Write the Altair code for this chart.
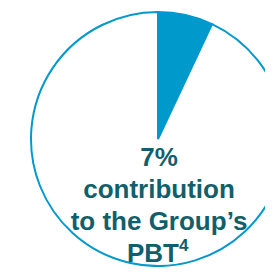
import altair as alt
import pandas as pd

# data
segments = ["Contribution", "Rest of Group"]
shares = [7, 93]
seg_colors = ["#0099CC", "#FFFFFF"]

text_lines = ["7%", "contribution", "to the Group\u2019s"]
last_line = ["PBT"]
superscript = ["4"]

pie_df = pd.DataFrame({"segment": segments, "share": shares, "order": [0, 1]})
txt_df = pd.DataFrame({"line": text_lines, "row": list(range(len(text_lines)))})
last_df = pd.DataFrame({"line": last_line, "row": [3]})
sup_df = pd.DataFrame({"t": superscript})

W, H = 257, 259
row_scale = alt.Scale(domain=[0, 3], range=[158, 254])

pie = alt.Chart(pie_df).mark_arc(
    radius=127, stroke="#0099CC", strokeWidth=2
).encode(
    theta=alt.Theta("share:Q", stack=True),
    order=alt.Order("order:Q"),
    color=alt.Color("segment:N", scale=alt.Scale(domain=segments, range=seg_colors), legend=None),
    x=alt.value(150),
    y=alt.value(131),
)

txt = alt.Chart(txt_df).mark_text(
    font="Liberation Sans", fontWeight="bold", fontSize=26, color="#125F6C",
    align="center", baseline="alphabetic"
).encode(
    text="line:N",
    x=alt.value(151),
    y=alt.Y("row:Q", scale=row_scale, axis=None),
)

last = alt.Chart(last_df).mark_text(
    font="Liberation Sans", fontWeight="bold", fontSize=26, color="#125F6C",
    align="right", baseline="alphabetic"
).encode(
    text="line:N",
    x=alt.value(171),
    y=alt.Y("row:Q", scale=row_scale, axis=None),
)

sup = alt.Chart(sup_df).mark_text(
    font="Liberation Sans", fontWeight="bold", fontSize=17, color="#125F6C",
    align="left", baseline="alphabetic"
).encode(
    text="t:N",
    x=alt.value(171),
    y=alt.value(243),
)

chart = alt.layer(pie, txt, last, sup).properties(
    width=W, height=H, autosize=alt.AutoSizeParams(type="none"), padding=0
).configure_view(stroke=None)

chart.save("out.html", embed_options={"renderer": "svg", "actions": False})
